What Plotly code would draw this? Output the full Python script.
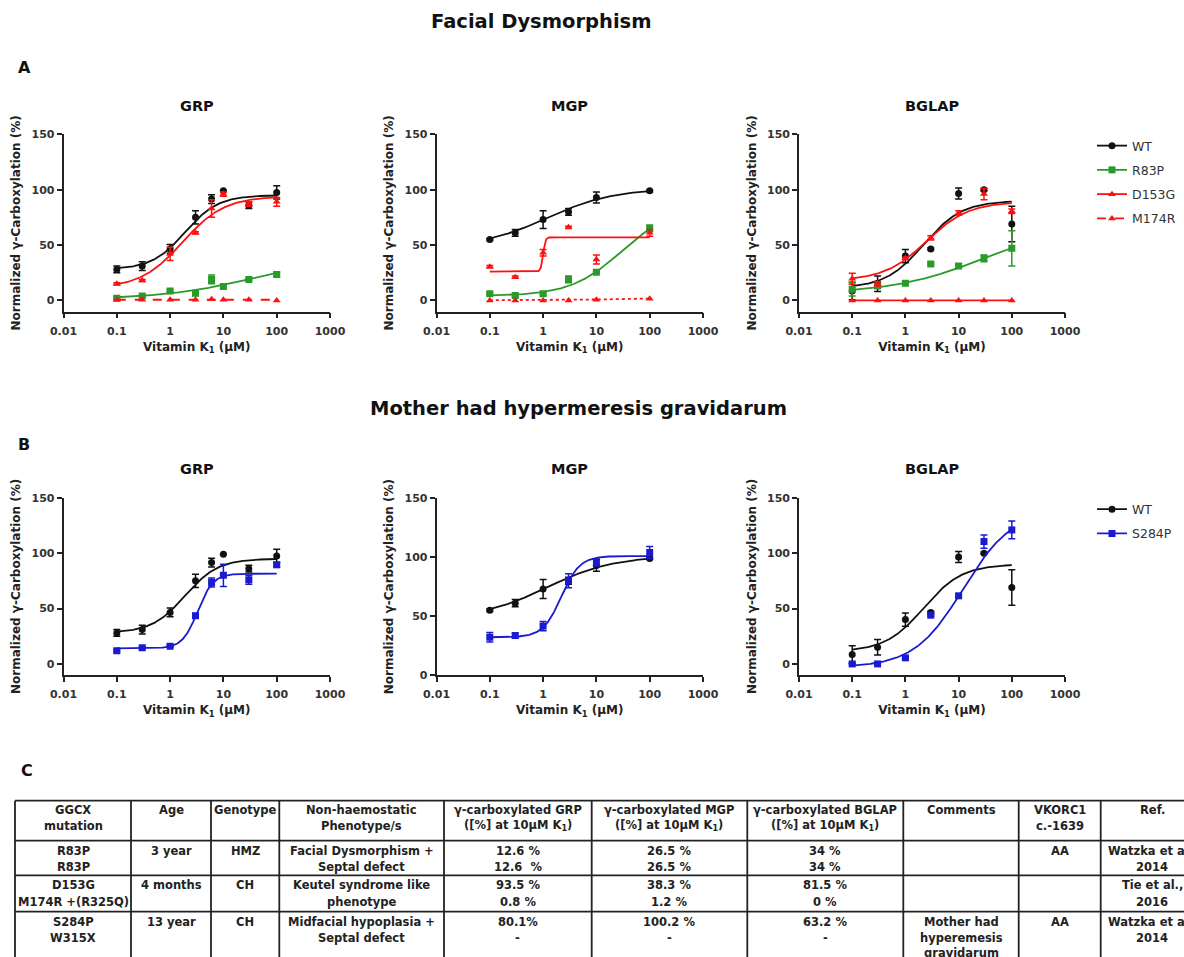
import numpy as np
import plotly.graph_objects as go

# ---------------- data ----------------
conc_grp = [0.1, 0.3, 1, 3, 6, 10, 30, 100]
conc_mgp = [0.1, 0.3, 1, 3, 10, 100]
conc_bglap = [0.1, 0.3, 1, 3, 10, 30, 100]

wt_grp = [28, 31, 46.5, 75, 91.5, 99, 86, 97.5]
wt_grp_err = [3, 4, 4, 6, 4, 0, 3, 6]
r83p_grp = [2, 4, 8.5, 6.5, 19, 12.5, 19, 23.5]
r83p_grp_err = [1, 1, 1, 2, 4, 2, 1, 2]
d153g_grp = [15, 18, 42, 61, 83, 96, 87, 89]
d153g_grp_err = [1, 1, 6, 1, 8, 2, 2, 4]
m174r_grp = [0.5, 0.5, 0.5, 0.5, 1, 0.5, 0.5, 0]
s284p_grp = [12, 14.5, 16, 43.5, 73.5, 80, 76, 89.5]
s284p_grp_err = [1, 1, 1, 2, 4, 10, 4, 2]

wt_mgp = [55, 61, 73, 80, 93, 99]
wt_mgp_err = [1, 3, 8, 3, 5, 1]
r83p_mgp = [6, 4.5, 6, 19, 25.5, 65]
r83p_mgp_err = [1, 1, 1, 3, 1, 3]
d153g_mgp = [30.5, 21, 43, 66, 37, 61]
d153g_mgp_err = [1, 1, 3, 1, 4, 3]
m174r_mgp = [0, 0, 0, 0, 0.5, 1.5]
s284p_mgp = [32, 33.5, 41.5, 80, 95.5, 104]
s284p_mgp_err = [4, 2, 4, 6, 3, 5]

wt_bglap = [8.5, 15, 40, 46.5, 96.5, 100, 69]
wt_bglap_err = [8, 7, 6, 1, 5, 1, 16]
r83p_bglap = [10, 13, 15.5, 33, 31, 38, 47]
r83p_bglap_err = [6, 2, 1, 1, 2, 3, 16]
d153g_bglap = [19.5, 15, 38, 56.5, 79, 96, 80.5]
d153g_bglap_err = [5, 2, 1, 2, 2, 5, 2]
m174r_bglap = [0, 0, 0, 0, 0, 0, 0]
s284p_bglap = [0, 0, 5.5, 44, 61.5, 110.5, 121]
s284p_bglap_err = [0.5, 0.5, 1, 1, 1, 6, 8]

# fitted 4-parameter logistic curves: (bottom, top, EC50, hill)
fit_wt_grp = (28, 95, 1.9, 1.4)
fit_r83p_grp = (1, 40, 40, 0.5)
fit_d153g_grp = (11, 94, 1.7, 1.1)
fit_m174r_grp = (0.6, 0.6, 1, 1)
fit_s284p_grp = (14, 81.5, 3.3, 3)
fit_wt_mgp = (48, 101, 1.2, 0.7)
fit_r83p_mgp = (4, 85, 30, 0.9)
fit_d153g_mgp = (26, 57, 1.0, 20)
fit_m174r_mgp = (0.2, 2, 20, 1)
fit_s284p_mgp = (32, 101, 2.2, 2.5)
fit_wt_bglap = (11, 90, 2.2, 1.2)
fit_r83p_bglap = (6, 70, 30, 0.5)
fit_d153g_bglap = (18, 89, 2.5, 1.1)
fit_m174r_bglap = (0, 0, 1, 1)
fit_s284p_bglap = (-3, 138, 12, 0.95)

x_ticks = [0.01, 0.1, 1, 10, 100, 1000]
x_tick_labels = ["0.01", "0.1", "1", "10", "100", "1000"]
y_ticks = [0, 50, 100, 150]

panel_titles = ["GRP", "MGP", "BGLAP", "GRP", "MGP", "BGLAP"]
section_titles = ["Facial Dysmorphism", "Mother had hypermeresis gravidarum"]
panel_letters = ["A", "B", "C"]

table_header = [["GGCX", "mutation"], ["Age"], ["Genotype"],
                ["Non-haemostatic", "Phenotype/s"],
                ["γ-carboxylated GRP", "([%] at 10µM K<sub>1</sub>)"],
                ["γ-carboxylated MGP", "([%] at 10µM K<sub>1</sub>)"],
                ["γ-carboxylated BGLAP", "([%] at 10µM K<sub>1</sub>)"],
                ["Comments"], ["VKORC1", "c.-1639"], ["Ref."]]
table_rows = [
    [["R83P", "R83P"], ["3 year"], ["HMZ"], ["Facial Dysmorphism +", "Septal defect"],
     ["12.6 %", "12.6  %"], ["26.5 %", "26.5 %"], ["34 %", "34 %"], [""], ["AA"],
     ["Watzka et al.,", "2014"]],
    [["D153G", "M174R +(R325Q)"], ["4 months"], ["CH"], ["Keutel syndrome like", "phenotype"],
     ["93.5 %", "0.8 %"], ["38.3 %", "1.2 %"], ["81.5 %", "0 %"], [""], [""],
     ["Tie et al.,", "2016"]],
    [["S284P", "W315X"], ["13 year"], ["CH"], ["Midfacial hypoplasia +", "Septal defect"],
     ["80.1%", "-"], ["100.2 %", "-"], ["63.2 %", "-"], ["Mother had", "hyperemesis", "gravidarum"],
     ["AA"], ["Watzka et al.,", "2014"]],
]

# ---------------- styling / layout ----------------
W, H = 1184, 957
FONT = "DejaVu Sans"
BLACK, GREEN, RED, BLUE = "#111111", "#2a9a2a", "#ff1010", "#1a1ad0"
AX = "#222222"

def fx(px):
    return px / W

def fy(py):
    return 1 - py / H

def logistic(x, p):
    b, t, ec, h = p
    return b + (t - b) / (1 + (ec / x) ** h)

x_fit = np.logspace(-1, 2, 300)

# panel geometry in pixels: (x0, x1, ytop, ybottom, yrange)
panels = [
    (63.5, 330, 134.3, 311.5, [-10, 150]),
    (436.5, 703, 134.3, 311.5, [-10, 150]),
    (799, 1065, 134.3, 311.5, [-10, 150]),
    (63.5, 330, 497.8, 675, [-10, 150]),
    (436.5, 703, 498.3, 675, [0, 150]),
    (799, 1065, 497.8, 675, [-10, 150]),
]

WT = ("WT", BLACK, "circle")
R83P = ("R83P", GREEN, "square")
D153G = ("D153G", RED, "triangle-up")
M174R = ("M174R", RED, "triangle-up")
S284P = ("S284P", BLUE, "square")

panel_series = [
    [(WT, conc_grp, wt_grp, wt_grp_err, fit_wt_grp, "solid"),
     (R83P, conc_grp, r83p_grp, r83p_grp_err, fit_r83p_grp, "solid"),
     (D153G, conc_grp, d153g_grp, d153g_grp_err, fit_d153g_grp, "solid"),
     (M174R, conc_grp, m174r_grp, None, fit_m174r_grp, "dash")],
    [(WT, conc_mgp, wt_mgp, wt_mgp_err, fit_wt_mgp, "solid"),
     (R83P, conc_mgp, r83p_mgp, r83p_mgp_err, fit_r83p_mgp, "solid"),
     (D153G, conc_mgp, d153g_mgp, d153g_mgp_err, fit_d153g_mgp, "solid"),
     (M174R, conc_mgp, m174r_mgp, None, fit_m174r_mgp, "dot")],
    [(WT, conc_bglap, wt_bglap, wt_bglap_err, fit_wt_bglap, "solid"),
     (R83P, conc_bglap, r83p_bglap, r83p_bglap_err, fit_r83p_bglap, "solid"),
     (D153G, conc_bglap, d153g_bglap, d153g_bglap_err, fit_d153g_bglap, "solid"),
     (M174R, conc_bglap, m174r_bglap, None, fit_m174r_bglap, "solid")],
    [(WT, conc_grp, wt_grp, wt_grp_err, fit_wt_grp, "solid"),
     (S284P, conc_grp, s284p_grp, s284p_grp_err, fit_s284p_grp, "solid")],
    [(WT, conc_mgp, wt_mgp, wt_mgp_err, fit_wt_mgp, "solid"),
     (S284P, conc_mgp, s284p_mgp, s284p_mgp_err, fit_s284p_mgp, "solid")],
    [(WT, conc_bglap, wt_bglap, wt_bglap_err, fit_wt_bglap, "solid"),
     (S284P, conc_bglap, s284p_bglap, s284p_bglap_err, fit_s284p_bglap, "solid")],
]

fig = go.Figure()

for i, series in enumerate(panel_series):
    xa = "x" if i == 0 else f"x{i+1}"
    ya = "y" if i == 0 else f"y{i+1}"
    for (name, color, symbol), conc, vals, errs, fit, dash in series:
        fig.add_trace(go.Scatter(
            x=x_fit, y=logistic(x_fit, fit), mode="lines",
            line=dict(color=color, width=1.8, dash=dash),
            xaxis=xa, yaxis=ya, showlegend=False, hoverinfo="skip"))
        fig.add_trace(go.Scatter(
            x=conc, y=vals, mode="markers",
            marker=dict(color=color, symbol=symbol, size=7),
            error_y=dict(type="data", array=errs, visible=errs is not None,
                         color=color, thickness=1.5, width=3.5),
            xaxis=xa, yaxis=ya, showlegend=False, name=name))

# legend-only entries (line + marker)
legend_entries = [("legend", [WT, R83P, D153G, M174R], ["solid", "solid", "solid", "dash"]),
                  ("legend2", [WT, S284P], ["solid", "solid"])]
for lg, entries, dashes in legend_entries:
    for (name, color, symbol), dash in zip(entries, dashes):
        fig.add_trace(go.Scatter(
            x=[None], y=[None], mode="lines+markers", name=name,
            line=dict(color=color, width=1.8, dash=dash),
            marker=dict(color=color, symbol=symbol, size=7),
            legend=lg, legendgroup=lg + name, showlegend=True,
            xaxis="x3" if lg == "legend" else "x6",
            yaxis="y3" if lg == "legend" else "y6"))

tickfont = dict(family=FONT, size=11, color="#333333", weight="bold")
titlefont = dict(family=FONT, size=12, color="#222222", weight="bold")

layout = dict(
    template="none",
    width=W, height=H, margin=dict(l=0, r=0, t=0, b=0, autoexpand=False),
    paper_bgcolor="white", plot_bgcolor="white",
    font=dict(family=FONT, color="#222222"),
)
for i, (x0, x1, yt, yb, yr) in enumerate(panels):
    k = "" if i == 0 else str(i + 1)
    layout["xaxis" + k] = dict(
        type="log", range=[-2, 3], domain=[fx(x0), fx(x1)], automargin=False,
        anchor="y" + k, tickvals=x_ticks, ticktext=x_tick_labels,
        showline=True, linecolor=AX, linewidth=1.6, ticks="outside",
        ticklen=5, tickwidth=1.6, tickcolor=AX, showgrid=False, zeroline=False,
        tickfont=tickfont, ticklabelstandoff=3,
        title=dict(text="Vitamin K<sub>1</sub> (µM)", font=titlefont, standoff=6))
    layout["yaxis" + k] = dict(
        range=yr, domain=[fy(yb), fy(yt)], anchor="x" + k, automargin=False,
        tickvals=y_ticks, showline=True, linecolor=AX, linewidth=1.6,
        ticks="outside", ticklen=5, tickwidth=1.6, tickcolor=AX,
        showgrid=False, zeroline=False, tickfont=tickfont,
        title=dict(text="Normalized γ-Carboxylation (%)", font=titlefont, standoff=8))

legend_style = dict(xanchor="left", yanchor="top", bgcolor="rgba(0,0,0,0)",
                    font=dict(family=FONT, size=12.5, color="#333333"),
                    traceorder="grouped", tracegroupgap=5, itemwidth=30)
layout["legend"] = dict(x=fx(1092), y=fy(131), **legend_style)
layout["legend2"] = dict(x=fx(1092), y=fy(494.5), **legend_style)

annotations = []
# section titles and letters
for text, (px, py) in zip(section_titles, [(541, 21), (578, 408)]):
    annotations.append(dict(text=text, x=fx(px), y=fy(py), xref="paper", yref="paper",
                            showarrow=False, xanchor="center", yanchor="middle",
                            font=dict(family=FONT, size=19.5, color="#111111", weight="bold")))
for text, (px, py) in zip(panel_letters, [(24, 67), (24, 445), (27, 770)]):
    annotations.append(dict(text=text, x=fx(px), y=fy(py), xref="paper", yref="paper",
                            showarrow=False, xanchor="center", yanchor="middle",
                            font=dict(family=FONT, size=16, color="#111111", weight="bold")))
for i, (x0, x1, yt, yb, yr) in enumerate(panels):
    annotations.append(dict(text=panel_titles[i], x=fx((x0 + x1) / 2),
                            y=fy(106 if i < 3 else 469), xref="paper", yref="paper",
                            showarrow=False, xanchor="center", yanchor="middle",
                            font=dict(family=FONT, size=14.5, color="#111111", weight="bold")))

# table
col_edges = [15, 131, 211, 279.3, 444, 591.7, 747.3, 903.3, 1018.7, 1100.7, 1205]
row_edges = [800.7, 840.7, 875.3, 911.7]
header_line_y = [810, 825.7]
row_line_y = [[850.5, 867], [884.5, 901.5], [922, 937.5, 953]]
col_centers = [(a + b) / 2 for a, b in zip(col_edges[:-1], col_edges[1:])]
col_centers[-1] = 1152

shapes = []
for ry in row_edges:
    shapes.append(dict(type="line", xref="paper", yref="paper",
                       x0=fx(col_edges[0]), x1=fx(col_edges[-1]), y0=fy(ry), y1=fy(ry),
                       line=dict(color="#222222", width=1.8)))
for cx in col_edges:
    shapes.append(dict(type="line", xref="paper", yref="paper",
                       x0=fx(cx), x1=fx(cx), y0=fy(row_edges[0]), y1=fy(975),
                       line=dict(color="#222222", width=1.8)))

cellfont = dict(family=FONT, size=11.5, color="#222222", weight="bold")

def add_cell(lines, cx, ys):
    for t, yy in zip(lines, ys):
        if t:
            annotations.append(dict(text=t, x=fx(cx), y=fy(yy), xref="paper", yref="paper",
                                    showarrow=False, xanchor="center", yanchor="middle",
                                    font=cellfont))

for c, cell in enumerate(table_header):
    add_cell(cell, col_centers[c], header_line_y)
for r, row in enumerate(table_rows):
    for c, cell in enumerate(row):
        add_cell(cell, col_centers[c], row_line_y[r])

layout["annotations"] = annotations
layout["shapes"] = shapes
fig.update_layout(**layout)

fig.write_html("out.html")
